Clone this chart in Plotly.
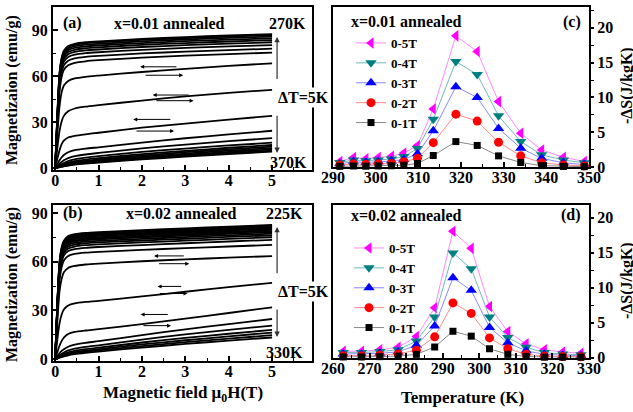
import plotly.graph_objects as go

W, HGT = 633, 412
FONT = "Liberation Serif, Times New Roman, DejaVu Serif, serif"

# ---------------- data ----------------
H_FIELD = [0, 0.05, 0.1, 0.15, 0.2, 0.3, 0.45, 0.7, 1, 2, 3, 4, 5]

TEMPS_A = [270, 275, 280, 285, 290, 295, 300, 305, 310, 315, 320, 325, 330,
           335, 340, 345, 350, 355, 360, 365, 370]
M_A = [
    [0, 35.0, 62.0, 72.0, 76.5, 79.5, 81.0, 82.0, 82.6, 84.2, 85.4, 86.4, 87.3],
    [0, 34.6, 61.3, 71.3, 75.8, 78.8, 80.3, 81.3, 81.9, 83.5, 84.7, 85.7, 86.6],
    [0, 34.1, 60.5, 70.4, 74.9, 77.9, 79.4, 80.4, 81.0, 82.6, 83.8, 84.8, 85.7],
    [0, 33.5, 59.5, 69.3, 73.8, 76.8, 78.3, 79.3, 79.9, 81.5, 82.7, 83.7, 84.6],
    [0, 32.8, 58.3, 68.1, 72.6, 75.6, 77.1, 78.1, 78.7, 80.3, 81.5, 82.5, 83.4],
    [0, 32.0, 57.0, 66.7, 71.2, 74.2, 75.7, 76.7, 77.3, 78.9, 80.1, 81.1, 82.0],
    [0, 31.0, 55.2, 64.9, 69.4, 72.4, 73.9, 74.9, 75.5, 77.1, 78.3, 79.3, 80.2],
    [0, 29.5, 52.8, 62.5, 67.0, 70.0, 71.5, 72.5, 73.1, 74.7, 75.9, 76.9, 77.8],
    [0, 27.5, 49.5, 59.5, 64.0, 67.0, 68.6, 69.6, 70.3, 72.0, 73.3, 74.3, 75.2],
    [0, 22.0, 40.0, 49.5, 53.8, 56.8, 58.4, 59.5, 60.3, 62.6, 64.7, 66.6, 68.3],
    [0, 13.0, 24.0, 30.5, 34.0, 37.0, 38.8, 40.0, 41.0, 44.0, 46.7, 49.0, 51.0],
    [0, 6.0, 11.5, 15.5, 17.8, 19.9, 21.0, 22.0, 23.0, 26.3, 29.0, 31.6, 34.0],
    [0, 2.5, 5.0, 7.0, 8.5, 10.3, 11.6, 12.6, 13.5, 16.6, 19.4, 21.9, 24.3],
    [0, 1.4, 2.8, 4.0, 5.0, 6.5, 7.7, 8.8, 9.8, 12.8, 15.3, 17.5, 19.5],
    [0, 0.9, 1.8, 2.6, 3.3, 4.5, 5.6, 6.7, 7.7, 10.5, 12.7, 14.7, 16.5],
    [0, 0.7, 1.3, 1.9, 2.5, 3.5, 4.5, 5.5, 6.4, 9.1, 11.2, 13.2, 15.0],
    [0, 0.5, 1.0, 1.5, 2.0, 2.9, 3.8, 4.7, 5.6, 8.2, 10.3, 12.2, 14.0],
    [0, 0.4, 0.8, 1.2, 1.6, 2.4, 3.2, 4.0, 4.9, 7.4, 9.4, 11.3, 13.0],
    [0, 0.35, 0.7, 1.0, 1.4, 2.0, 2.8, 3.6, 4.3, 6.7, 8.7, 10.5, 12.2],
    [0, 0.3, 0.6, 0.9, 1.2, 1.8, 2.5, 3.2, 3.9, 6.1, 8.0, 9.8, 11.4],
    [0, 0.25, 0.5, 0.8, 1.1, 1.6, 2.2, 2.9, 3.5, 5.6, 7.4, 9.1, 10.7],
]

TEMPS_B = [225, 230, 235, 240, 245, 250, 255, 260, 265, 270, 275, 280, 285,
           290, 295, 300, 305, 310, 315, 320, 325, 330]
M_B = [
    [0, 35.0, 60.0, 69.0, 73.0, 75.8, 77.0, 77.8, 78.3, 79.5, 80.6, 81.7, 82.7],
    [0, 34.6, 59.4, 68.4, 72.4, 75.2, 76.4, 77.2, 77.7, 78.9, 80.0, 81.1, 82.1],
    [0, 34.2, 58.8, 67.8, 71.8, 74.6, 75.8, 76.6, 77.1, 78.3, 79.4, 80.5, 81.5],
    [0, 33.8, 58.2, 67.2, 71.2, 74.0, 75.2, 76.0, 76.5, 77.7, 78.8, 79.9, 80.9],
    [0, 33.4, 57.6, 66.6, 70.6, 73.4, 74.6, 75.4, 75.9, 77.1, 78.2, 79.3, 80.3],
    [0, 33.0, 56.9, 65.9, 69.9, 72.7, 73.9, 74.7, 75.2, 76.4, 77.5, 78.6, 79.6],
    [0, 32.6, 56.2, 65.2, 69.2, 72.0, 73.2, 74.0, 74.5, 75.7, 76.8, 77.9, 78.9],
    [0, 32.2, 55.5, 64.5, 68.5, 71.3, 72.5, 73.3, 73.8, 75.0, 76.1, 77.2, 78.2],
    [0, 31.6, 54.6, 63.6, 67.6, 70.4, 71.6, 72.4, 72.9, 74.1, 75.2, 76.3, 77.3],
    [0, 31.0, 53.6, 62.6, 66.6, 69.4, 70.6, 71.4, 71.9, 73.1, 74.2, 75.3, 76.3],
    [0, 30.2, 52.4, 61.4, 65.4, 68.2, 69.4, 70.2, 70.7, 71.9, 73.0, 74.1, 75.1],
    [0, 29.0, 50.8, 59.8, 63.8, 66.6, 67.8, 68.6, 69.1, 70.3, 71.4, 72.5, 73.5],
    [0, 27.0, 48.0, 56.8, 60.8, 63.6, 64.8, 65.6, 66.1, 67.3, 68.4, 69.4, 70.4],
    [0, 23.0, 41.5, 49.5, 53.5, 56.2, 57.4, 58.3, 58.9, 60.3, 61.5, 62.5, 63.5],
    [0, 12.0, 22.0, 27.5, 30.5, 33.0, 34.3, 35.2, 35.9, 38.6, 41.5, 44.3, 47.0],
    [0, 4.2, 8.2, 11.2, 13.2, 15.4, 16.7, 17.6, 18.4, 21.5, 24.9, 28.4, 31.9],
    [0, 1.8, 3.6, 5.0, 6.0, 7.6, 8.9, 10.0, 11.0, 14.8, 18.3, 21.6, 24.7],
    [0, 1.1, 2.2, 3.2, 4.0, 5.3, 6.4, 7.5, 8.5, 12.0, 15.2, 18.0, 20.6],
    [0, 0.8, 1.6, 2.4, 3.0, 4.1, 5.1, 6.1, 7.0, 10.2, 13.0, 15.6, 18.0],
    [0, 0.6, 1.3, 1.9, 2.5, 3.4, 4.3, 5.2, 6.1, 9.0, 11.6, 14.0, 16.3],
    [0, 0.5, 1.0, 1.5, 2.0, 2.8, 3.6, 4.5, 5.3, 8.0, 10.4, 12.6, 14.7],
    [0, 0.4, 0.8, 1.2, 1.6, 2.3, 3.0, 3.8, 4.6, 7.1, 9.3, 11.4, 13.3],
]

T_C = [291.6, 294.8, 297.7, 300.6, 303.7, 306.6, 309.8, 313.5, 318.8, 323.8,
       328.8, 334.0, 338.9, 344.0, 348.9]
DS_C_5T = [0.8, 1.35, 1.2, 1.35, 1.55, 2.0, 3.1, 8.35, 18.85, 16.6, 9.4, 4.85, 2.45, 1.4, 0.8]
DS_C_4T = [0.65, 1.0, 0.9, 1.0, 1.15, 1.5, 2.65, 6.85, 15.15, 13.3, 7.35, 3.65, 1.75, 1.0, 0.6]
DS_C_3T = [0.45, 0.75, 0.65, 0.75, 0.85, 1.1, 1.9, 5.2, 11.55, 10.0, 5.55, 2.7, 1.25, 0.6, 0.35]
DS_C_2T = [0.28, 0.45, 0.4, 0.45, 0.5, 0.75, 1.25, 3.5, 7.6, 6.6, 3.55, 1.6, 0.6, 0.3, 0.15]
DS_C_1T = [0.1, 0.15, 0.12, 0.15, 0.18, 0.25, 0.5, 1.65, 3.65, 3.1, 1.6, 0.65, 0.2, 0.08, 0.05]

T_D = [262.8, 267.8, 272.8, 277.8, 282.8, 287.8, 292.8, 297.8, 302.8, 307.8,
       312.8, 317.8, 322.8, 327.8]
DS_D_5T = [0.9, 0.9, 1.1, 1.45, 3.0, 7.1, 18.05, 15.6, 7.3, 3.7, 1.95, 1.1, 0.8, 0.6]
DS_D_4T = [0.7, 0.7, 0.85, 1.1, 2.35, 5.8, 14.95, 12.7, 5.8, 2.85, 1.45, 0.7, 0.5, 0.4]
DS_D_3T = [0.5, 0.5, 0.6, 0.8, 1.75, 4.5, 11.4, 9.6, 4.3, 2.1, 0.95, 0.45, 0.3, 0.25]
DS_D_2T = [0.25, 0.25, 0.35, 0.5, 1.05, 2.95, 7.8, 6.3, 2.8, 1.25, 0.45, 0.2, 0.15, 0.1]
DS_D_1T = [0.08, 0.08, 0.12, 0.2, 0.45, 1.5, 3.75, 3.05, 1.25, 0.45, 0.15, 0.05, 0.05, 0.04]

FIELD_LABELS = ["0-5T", "0-4T", "0-3T", "0-2T", "0-1T"]

# hysteresis arrows (tail H, head H, M)
ARROWS_A = [(2.83, 1.96, 66.0), (2.05, 2.95, 60.5), (3.11, 2.25, 47.6),
            (2.30, 3.19, 43.9), (2.69, 1.80, 31.7), (1.84, 2.74, 24.1)]
ARROWS_B = [(3.00, 2.28, 63.6), (2.36, 3.09, 58.8), (2.94, 2.36, 44.8),
            (2.38, 3.05, 40.4), (2.63, 1.97, 27.5), (2.00, 2.67, 20.6)]

# ---------------- styles ----------------
STYLES = [
    dict(symbol="triangle-left", color="#ff00ff", line="#ff88ff", size=10),
    dict(symbol="triangle-down", color="#008080", line="#70b8b8", size=10),
    dict(symbol="triangle-up", color="#0000ff", line="#8888ff", size=10),
    dict(symbol="circle", color="#ff0000", line="#ff8888", size=9),
    dict(symbol="square", color="#000000", line="#888888", size=7),
]


def px(x):
    return x / W


def py(y):
    return 1 - y / HGT


fig = go.Figure()

for row in M_A:
    fig.add_trace(go.Scatter(x=H_FIELD, y=row, mode="lines", xaxis="x", yaxis="y",
                             line=dict(color="black", width=1.8, shape="spline", smoothing=0.6),
                             showlegend=False, hoverinfo="skip"))
for row in M_B:
    fig.add_trace(go.Scatter(x=H_FIELD, y=row, mode="lines", xaxis="x3", yaxis="y3",
                             line=dict(color="black", width=1.8, shape="spline", smoothing=0.6),
                             showlegend=False, hoverinfo="skip"))

for lab, vals, st in zip(FIELD_LABELS, [DS_C_5T, DS_C_4T, DS_C_3T, DS_C_2T, DS_C_1T], STYLES):
    fig.add_trace(go.Scatter(x=T_C, y=vals, mode="lines+markers", name=lab,
                             xaxis="x2", yaxis="y2", legend="legend", cliponaxis=False,
                             line=dict(color=st["line"], width=1),
                             marker=dict(symbol=st["symbol"], color=st["color"], size=st["size"])))
for lab, vals, st in zip(FIELD_LABELS, [DS_D_5T, DS_D_4T, DS_D_3T, DS_D_2T, DS_D_1T], STYLES):
    fig.add_trace(go.Scatter(x=T_D, y=vals, mode="lines+markers", name=lab,
                             xaxis="x4", yaxis="y4", legend="legend2", cliponaxis=False,
                             line=dict(color=st["line"], width=1),
                             marker=dict(symbol=st["symbol"], color=st["color"], size=st["size"])))

tickfont = dict(family=FONT, size=16, color="black", weight="bold")


def xax(domain, rng, dtick, minor, anchor):
    return dict(domain=domain, range=rng, dtick=dtick, tick0=0, anchor=anchor,
                ticks="inside", ticklen=5, tickwidth=1.5, tickcolor="black",
                minor=dict(dtick=minor, ticks="inside", ticklen=3, tickwidth=1.2, tickcolor="black"),
                showline=True, mirror=True, linewidth=2, linecolor="black", automargin=False,
                showgrid=False, zeroline=False, tickfont=tickfont, ticklabelstandoff=-5)


def yax(domain, rng, dtick, minor, anchor, side="left", ticks="inside"):
    return dict(domain=domain, range=rng, dtick=dtick, tick0=0, anchor=anchor, side=side,
                ticks=ticks, ticklen=5 if ticks == "inside" else 3, tickwidth=1.5, tickcolor="black",
                minor=dict(dtick=minor, ticks=ticks, ticklen=3, tickwidth=1.2, tickcolor="black"),
                showline=True, mirror=True, linewidth=2, linecolor="black", automargin=False,
                showgrid=False, zeroline=False, tickfont=tickfont)


XD_L = [px(53), px(312)]
XD_R = [px(333), px(589)]
YD_T = [py(170), py(7)]
YD_B = [py(361), py(205)]
YD_TR = [py(167), py(7)]
YD_BR = [py(357.5), py(205)]

legend_common = dict(font=dict(family=FONT, size=13, color="black", weight="bold"),
                     bgcolor="rgba(0,0,0,0)", borderwidth=0, itemsizing="trace",
                     xanchor="left", yanchor="top", traceorder="normal")

fig.update_layout(
    width=W, height=HGT, margin=dict(l=0, r=0, t=0, b=0, autoexpand=False),
    paper_bgcolor="white", plot_bgcolor="white",
    font=dict(family=FONT, color="black"),
    xaxis=xax(XD_L, [-0.05, 5.92], 1, 0.5, "y"),
    yaxis=yax(YD_T, [-1.3, 105], 30, 15, "x"),
    xaxis3=xax(XD_L, [-0.05, 5.92], 1, 0.5, "y3"),
    yaxis3=yax(YD_B, [-1.2, 95], 30, 15, "x3"),
    xaxis2=xax(XD_R, [290, 350], 10, 5, "y2"),
    yaxis2=yax(YD_TR, [0, 23], 5, 2.5, "x2", side="right", ticks="outside"),
    xaxis4=xax(XD_R, [260, 330], 10, 5, "y4"),
    yaxis4=yax(YD_BR, [0, 21.8], 5, 2.5, "x4", side="right", ticks="outside"),
    legend=dict(x=px(351), y=py(28), **legend_common),
    legend2=dict(x=px(349), y=py(233), **legend_common),
)

ann = []


def text(x, y, s, size=16, xanchor="center", angle=0, bg=None):
    d = dict(x=px(x), y=py(y), xref="paper", yref="paper", text=s, showarrow=False,
             xanchor=xanchor, yanchor="middle", textangle=angle,
             font=dict(family=FONT, size=size, color="black", weight="bold"))
    if bg:
        d.update(bgcolor=bg, borderpad=1)
    return d


# panel labels and headings
ann += [text(61, 23, "(a)", xanchor="left"), text(169, 24, "x=0.01 annealed"),
        text(287, 24, "270K"), text(288, 163, "370K"),
        text(61, 213, "(b)", xanchor="left"), text(181, 213, "x=0.02 annealed"),
        text(284, 213, "225K"), text(284, 352, "330K"),
        text(406, 22, "x=0.01 annealed"), text(583, 22, "(c)", xanchor="right"),
        text(406, 215, "x=0.02 annealed"), text(583, 215, "(d)", xanchor="right")]
# axis titles
ann += [text(12, 90, "Magnetizaion (emu/g)", angle=-90),
        text(12, 285, "Magnetization (emu/g)", angle=-90),
        text(183, 394, "Magnetic field μ<sub>0</sub>H(T)", size=17),
        text(462, 397, "Temperature (K)", size=17),
        text(627, 86, "-ΔS(J/kgK)", angle=-90),
        text(627, 281, "-ΔS(J/kgK)", angle=-90)]

# double arrows with ΔT label
for xr, yr, top, bot, gtop, gbot, ty in [("x", "y", 85.5, 9.8, 57, 35, 97),
                                         ("x3", "y3", 81.5, 13.6, 52, 31.5, 291)]:
    for head, tail in [(top, gtop), (bot, gbot)]:
        ann.append(dict(x=5.115, y=head, ax=5.115, ay=tail, xref=xr, yref=yr,
                        axref=xr, ayref=yr, text="", showarrow=True, arrowhead=2,
                        arrowsize=0.9, arrowwidth=1.2, arrowcolor="#333333"))
    ann.append(text(276, ty, "ΔT=5K", xanchor="left", bg="white"))

# hysteresis arrows
for xr, yr, arrows in [("x", "y", ARROWS_A), ("x3", "y3", ARROWS_B)]:
    for tail, head, m in arrows:
        ann.append(dict(x=head, y=m, ax=tail, ay=m, xref=xr, yref=yr, axref=xr, ayref=yr,
                        text="", showarrow=True, arrowhead=2, arrowsize=0.8,
                        arrowwidth=1, arrowcolor="black"))

fig.update_layout(annotations=ann)
fig.write_html("out.html", config={"displayModeBar": False},
               post_script="document.body.style.margin='0';document.body.style.padding='0';")
